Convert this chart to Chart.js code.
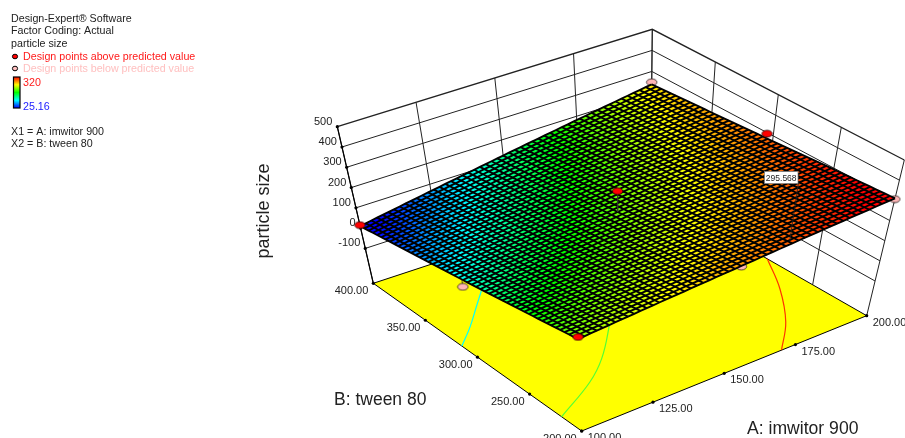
<!DOCTYPE html>
<html>
<head>
<meta charset="utf-8">
<title>particle size response surface</title>
<script src="https://cdn.jsdelivr.net/npm/chart.js@4/dist/chart.umd.min.js"></script>
<style>
	html, body { margin: 0; padding: 0; background: #fff; }
	canvas { display: block; }
</style>
</head>
<body>
<canvas id="mycanvas" width="905" height="438"></canvas>
<script>
// axes of the plot
var aTicks = [100, 125, 150, 175, 200];
var bTicks = [200, 250, 300, 350, 400];
var zTicks = [-100, 0, 100, 200, 300, 400, 500];
var zFloor = -272;
var colorMin = 25.16;
var colorMax = 320;
var surfaceRedAt = 300;

// particle size, rows follow aTicks, columns follow bTicks
var surfaceA100 = [201, 153, 105, 58, 10];
var surfaceA125 = [229, 188, 148, 107, 67];
var surfaceA150 = [256, 224, 190, 158, 125];
var surfaceA175 = [284, 258, 233, 207, 182];
var surfaceA200 = [310, 294, 275, 257, 239];

// design points
var designA = [100, 100, 100, 150, 152, 200, 200, 200];
var designB = [400, 200, 305, 300, 200, 400, 305, 200];
var designZ = [15, 212, 63, 293, 255, 249, 295, 306];
var designAbove = [true, true, false, true, false, false, true, false];

// contours on the floor, visible part only
var contourCyanA = [100, 108.4, 117.4, 123, 125];
var contourCyanB = [315, 329.7, 347.3, 358.2, 362];
var contourGreenA = [100, 117.6, 128.1, 140.5, 143];
var contourGreenB = [219.3, 240, 257, 283.3, 290];
var contourRedA = [170.1, 180.9, 191.5, 200];
var contourRedB = [200, 224.7, 258, 292];

// flagged point
var flagValue = "295.568";
var flagA = 167;
var flagB = 200;
var flagZ = [295.568, 586];

var infoLines = ["Design-Expert\u00AE Software", "Factor Coding: Actual", "particle size"];
var aboveLabel = "Design points above predicted value";
var belowLabel = "Design points below predicted value";
var factorLines = ["X1 = A: imwitor 900", "X2 = B: tween 80"];

var surfaceZ = [surfaceA100, surfaceA125, surfaceA150, surfaceA175, surfaceA200];
var meshCells = 50;

// where the corners of the box sit in the picture
var floorFront = [581.7, 431], floorRight = [866.7, 315.7], floorLeft = [373.3, 283.3], floorBack = [650.5, 192];
var topFront = [575.8, 281], topRight = [904.3, 160], topLeft = [337.3, 126.7], topBack = [652.3, 29.3];

function mix(p, q, t) {
	return [p[0] + (q[0] - p[0]) * t, p[1] + (q[1] - p[1]) * t];
}

function project(A, B, z) {
	var u = (A - 100) / 100, v = (B - 200) / 200, c = (z - zFloor) / (500 - zFloor);
	var low = mix(mix(floorFront, floorRight, u), mix(floorLeft, floorBack, u), v);
	var high = mix(mix(topFront, topRight, u), mix(topLeft, topBack, u), v);
	var p = mix(low, high, c);
	return { x: p[0], y: p[1] };
}

// the fine mesh is only how the surface gets rendered, its nodes come from the table above
function surfaceAt(A, B) {
	var u = (A - 100) / 25, v = (B - 200) / 50;
	var i = Math.min(Math.floor(u), 3), j = Math.min(Math.floor(v), 3);
	var fu = u - i, fv = v - j;
	return surfaceZ[i][j] * (1 - fu) * (1 - fv) + surfaceZ[i + 1][j] * fu * (1 - fv) +
		surfaceZ[i][j + 1] * (1 - fu) * fv + surfaceZ[i + 1][j + 1] * fu * fv;
}

function heatColor(z) {
	var t = Math.max(0, Math.min(1, (z - colorMin) / (surfaceRedAt - colorMin))) * 4;
	var r = 0, g = 0, b = 0;
	if (t < 1) { g = t; b = 1; }
	else if (t < 2) { g = 1; b = 2 - t; }
	else if (t < 3) { r = t - 2; g = 1; }
	else { r = 1; g = 4 - t; }
	return "rgb(" + Math.round(r * 255) + "," + Math.round(g * 255) + "," + Math.round(b * 255) + ")";
}

function makeDot(fill) {
	var c = document.createElement("canvas");
	c.width = 13; c.height = 9;
	var g = c.getContext("2d");
	g.beginPath();
	g.ellipse(6.5, 4.5, 5.2, 3.4, 0, 0, Math.PI * 2);
	g.fillStyle = fill;
	g.fill();
	g.lineWidth = 0.7;
	g.strokeStyle = "#000";
	g.stroke();
	return c;
}

var datasets = [];

function addLine(points, color, width, tension) {
	datasets.push({
		data: points, showLine: true, borderColor: color, borderWidth: width,
		pointRadius: 0, fill: false, tension: tension || 0
	});
}

function addShape(points, color) {
	datasets.push({
		data: points, showLine: true, borderColor: color, borderWidth: 0,
		backgroundColor: color, pointRadius: 0, fill: "shape", tension: 0
	});
}

function addPoints(points, style, radius) {
	datasets.push({
		data: points, showLine: false, pointStyle: style, pointRadius: radius,
		pointBackgroundColor: "#000", pointBorderWidth: 0
	});
}

// back walls
zTicks.forEach(function (z) {
	addLine([project(100, 400, z), project(200, 400, z), project(200, 200, z)], "#222", z === 500 ? 1.3 : 1);
});
aTicks.forEach(function (a) {
	addLine([project(a, 400, zFloor), project(a, 400, 500)], "#222", 1);
});
bTicks.forEach(function (b) {
	addLine([project(200, b, zFloor), project(200, b, 500)], "#222", 1);
});
addLine([project(100, 400, zFloor), project(100, 400, 500)], "#000", 1.2);

// floor
addShape([project(100, 200, zFloor), project(200, 200, zFloor), project(200, 400, zFloor), project(100, 400, zFloor), project(100, 200, zFloor)], "#ffff00");
addLine([project(100, 400, zFloor), project(100, 200, zFloor), project(200, 200, zFloor), project(200, 400, zFloor), project(100, 400, zFloor)], "#000", 1);

function floorLine(as, bs, color) {
	addLine(as.map(function (a, i) { return project(a, bs[i], zFloor); }), color, 1.2, 0.4);
}
floorLine(contourCyanA, contourCyanB, "#00ffff");
floorLine(contourGreenA, contourGreenB, "#55ff33");
floorLine(contourRedA, contourRedB, "#ff3300");

addPoints(aTicks.map(function (a) { return project(a, 200, zFloor); }), "circle", 1.6);
addPoints(bTicks.map(function (b) { return project(100, b, zFloor); }), "circle", 1.6);
addPoints(zTicks.map(function (z) { return project(100, 400, z); }), "circle", 1.6);

// design points below the surface go under it, with their stems
var pinkDot = makeDot("#ffb6b6");
var redDot = makeDot("#ff0000");
designA.forEach(function (a, i) {
	if (designAbove[i]) return;
	addLine([project(a, designB[i], designZ[i]), project(a, designB[i], surfaceAt(a, designB[i]))], "#333", 0.8);
	addPoints([project(a, designB[i], designZ[i])], pinkDot, 5);
});

// surface cells
var stepA = 100 / meshCells, stepB = 200 / meshCells;
for (var ia = 0; ia < meshCells; ia++) {
	for (var ib = 0; ib < meshCells; ib++) {
		var a0 = 100 + ia * stepA, a1 = a0 + stepA, b0 = 200 + ib * stepB, b1 = b0 + stepB;
		addShape([
			project(a0, b0, surfaceAt(a0, b0)), project(a1, b0, surfaceAt(a1, b0)),
			project(a1, b1, surfaceAt(a1, b1)), project(a0, b1, surfaceAt(a0, b1)),
			project(a0, b0, surfaceAt(a0, b0))
		], heatColor(surfaceAt(a0 + stepA / 2, b0 + stepB / 2)));
	}
}

// mesh lines
for (var m = 0; m <= meshCells; m++) {
	var lineA = [], lineB = [];
	for (var n = 0; n <= meshCells; n++) {
		var pa = 100 + m * stepA, pb = 200 + n * stepB;
		lineA.push(project(pa, pb, surfaceAt(pa, pb)));
		pa = 100 + n * stepA; pb = 200 + m * stepB;
		lineB.push(project(pa, pb, surfaceAt(pa, pb)));
	}
	addLine(lineA, "#000", 1.9);
	addLine(lineB, "#000", 1.9);
}

// flag stem and the points above the surface
addLine([project(flagA, flagB, flagZ[0]), project(flagA, flagB, flagZ[1])], "#222", 0.8);
designA.forEach(function (a, i) {
	if (!designAbove[i]) return;
	addLine([project(a, designB[i], designZ[i]), project(a, designB[i], surfaceAt(a, designB[i]))], "#333", 0.8);
	addPoints([project(a, designB[i], designZ[i])], redDot, 5);
});

// first dataset in paint order gets the highest order
datasets.forEach(function (d, i) { d.order = datasets.length - i; });

var textFont = '"Liberation Sans", Arial, sans-serif';

function put(ctx, text, x, y, size, color, align) {
	ctx.font = size + "px " + textFont;
	ctx.fillStyle = color;
	ctx.textAlign = align || "left";
	ctx.textBaseline = "alphabetic";
	ctx.fillText(text, x, y);
}

function legendDot(ctx, x, y, fill) {
	ctx.beginPath();
	ctx.ellipse(x, y, 2.6, 2.3, 0, 0, Math.PI * 2);
	ctx.fillStyle = fill;
	ctx.fill();
	ctx.lineWidth = 1;
	ctx.strokeStyle = "#000";
	ctx.stroke();
}

var annotations = {
	id: "annotations",
	afterDraw: function (chart) {
		var ctx = chart.ctx;
		ctx.save();

		infoLines.forEach(function (t, i) { put(ctx, t, 11, 22 + i * 12.4, 10.7, "#222"); });
		legendDot(ctx, 15, 56.5, "#ff0000");
		put(ctx, aboveLabel, 23, 60, 10.7, "#ff1a1a");
		legendDot(ctx, 15, 68.5, "#ffc0c0");
		put(ctx, belowLabel, 23, 72, 10.7, "#ffc0c0");

		var grad = ctx.createLinearGradient(0, 77, 0, 108);
		["#0000ff", "#00ffff", "#00ff00", "#ffff00", "#ff0000"].forEach(function (c, i) {
			grad.addColorStop(1 - i / 4, c);
		});
		ctx.fillStyle = grad;
		ctx.fillRect(13.5, 77, 6.5, 31);
		ctx.lineWidth = 1.2;
		ctx.strokeStyle = "#000";
		ctx.strokeRect(13.5, 77, 6.5, 31);
		put(ctx, String(colorMax), 23, 86, 10.7, "#ff1a1a");
		put(ctx, String(colorMin), 23, 110, 10.7, "#2222ff");
		factorLines.forEach(function (t, i) { put(ctx, t, 11, 135 + i * 12, 10.7, "#222"); });

		aTicks.forEach(function (a) {
			var p = project(a, 200, zFloor);
			put(ctx, a.toFixed(2), p.x + 6, p.y + 10, 11, "#222");
		});
		bTicks.forEach(function (b) {
			var p = project(100, b, zFloor);
			put(ctx, b.toFixed(2), p.x - 5, p.y + 10.5, 11, "#222", "right");
		});
		zTicks.forEach(function (z) {
			var p = project(100, 400, z);
			put(ctx, String(z), p.x - 5, p.y - 2, 11, "#222", "right");
		});

		put(ctx, "B: tween 80", 334, 405, 17.5, "#222");
		put(ctx, "A: imwitor 900", 747, 434, 17.6, "#222");
		ctx.save();
		ctx.translate(268.5, 211);
		ctx.rotate(-Math.PI / 2);
		put(ctx, "particle size", 0, 0, 18, "#222", "center");
		ctx.restore();

		ctx.fillStyle = "#fff";
		ctx.fillRect(764.5, 171.5, 33.5, 12);
		ctx.lineWidth = 0.7;
		ctx.strokeStyle = "#777";
		ctx.strokeRect(764.5, 171.5, 33.5, 12);
		put(ctx, flagValue, 781.2, 180.5, 8.5, "#222", "center");
		ctx.restore();
	}
};

var LineGraph = new Chart(document.getElementById("mycanvas"), {
	type: "scatter",
	data: { datasets: datasets },
	plugins: [annotations],
	options: {
		responsive: false,
		animation: false,
		events: [],
		layout: { padding: 0, autoPadding: false },
		plugins: { legend: { display: false }, tooltip: { enabled: false } },
		scales: {
			x: { type: "linear", min: 0, max: 905, display: false },
			y: { type: "linear", min: 0, max: 438, reverse: true, display: false }
		}
	}
});
</script>
</body>
</html>
